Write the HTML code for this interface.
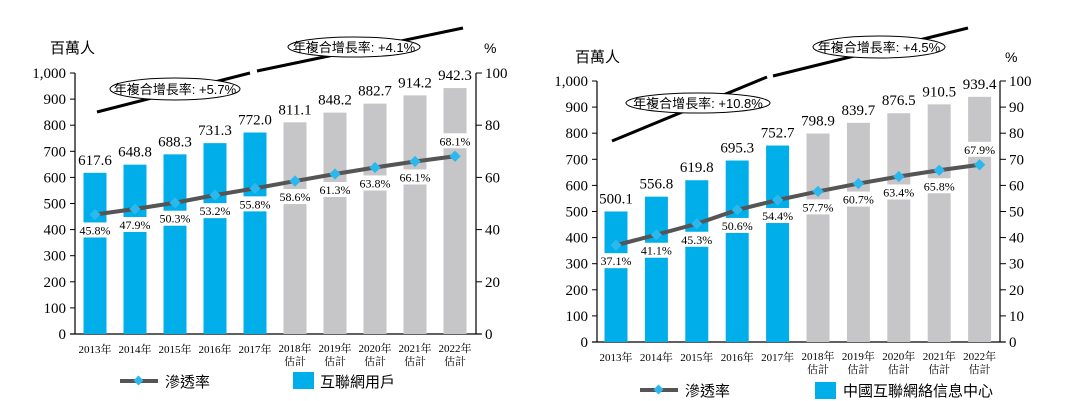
<!DOCTYPE html>
<html><head><meta charset="utf-8"><style>
html,body{margin:0;padding:0;background:#fff;}
svg{display:block;font-family:"Liberation Serif","Noto Serif CJK SC","Noto Sans CJK TC",serif;}
</style></head><body>
<svg id="s" width="1075" height="401" viewBox="0 0 1075 401" xmlns="http://www.w3.org/2000/svg"></svg>
<script>
const s=document.getElementById('s');let h='';
function chart(o){
 const {ax,rx,y0,sc,vals,pcts,rstep,x0,pitch}=o;
 // axes
 h+=`<line x1="${ax}" y1="${y0-1000*sc}" x2="${ax}" y2="${y0}" stroke="#000" stroke-width="1.2"/>`;
 h+=`<line x1="${rx}" y1="${y0-1000*sc}" x2="${rx}" y2="${y0}" stroke="#000" stroke-width="1.2"/>`;
 h+=`<line x1="${ax-5}" y1="${y0}" x2="${rx+5}" y2="${y0}" stroke="#000" stroke-width="1.2"/>`;
 for(let v=0;v<=1000;v+=100){const y=y0-v*sc;
  h+=`<line x1="${ax-5}" y1="${y}" x2="${ax}" y2="${y}" stroke="#000"/>`;
  h+=`<text x="${ax-9}" y="${y+5}" font-size="15" text-anchor="end">${v==1000?'1,000':v}</text>`;}
 for(let v=0;v<=100;v+=rstep){const y=y0-v*10*sc;
  h+=`<line x1="${rx}" y1="${y}" x2="${rx+6}" y2="${y}" stroke="#000"/>`;
  h+=`<text x="${rx+9}" y="${y+5}" font-size="15">${v}</text>`;}
 const pts=[];
 vals.forEach((v,i)=>{const cx=x0+i*pitch,c=i<5?'#00aeea':'#c6c6c8';
  h+=`<rect x="${cx-11.5}" y="${y0-v*sc}" width="23" height="${v*sc}" fill="${c}"/>`;
  h+=`<text x="${cx}" y="${y0-v*sc-8}" font-size="15" text-anchor="middle">${v.toFixed(1)}</text>`;
  const py=y0-pcts[i]*10*sc;pts.push([cx,py]);
  const last=i==9;const by=last?py-23:py+8;
  h+=`<rect x="${cx-14}" y="${by}" width="28" height="15" fill="#fff"/>`;
  h+=`<text x="${cx}" y="${by+12}" font-size="12" text-anchor="middle">${pcts[i].toFixed(1)}%</text>`;
  const yr=2013+i;
  if(i<5)h+=`<text x="${cx}" y="${y0+19}" font-size="11" text-anchor="middle">${yr}年</text>`;
  else h+=`<text x="${cx}" y="${y0+18}" font-size="11" text-anchor="middle">${yr}年</text><text x="${cx}" y="${y0+31}" font-size="11" text-anchor="middle">估計</text>`;
 });
 h+=`<polyline points="${pts.map(p=>p.join(',')).join(' ')}" fill="none" stroke="#555" stroke-width="4"/>`;
 pts.forEach(p=>h+=`<rect x="${p[0]-4}" y="${p[1]-4}" width="8" height="8" fill="#2ab8ee" transform="rotate(45 ${p[0]} ${p[1]})"/>`);
}
chart({ax:75,rx:476,y0:334,sc:0.261,x0:95,pitch:40,rstep:20,
 vals:[617.6,648.8,688.3,731.3,772.0,811.1,848.2,882.7,914.2,942.3],
 pcts:[45.8,47.9,50.3,53.2,55.8,58.6,61.3,63.8,66.1,68.1]});
chart({ax:597,rx:1000,y0:342,sc:0.261,x0:616,pitch:40.4,rstep:10,
 vals:[500.1,556.8,619.8,695.3,752.7,798.9,839.7,876.5,910.5,939.4],
 pcts:[37.1,41.1,45.3,50.6,54.4,57.7,60.7,63.4,65.8,67.9]});
// CAGR lines
const L=(a,b,c,d)=>h+=`<line x1="${a}" y1="${b}" x2="${c}" y2="${d}" stroke="#000" stroke-width="3"/>`;
L(97,112,250,73);L(257,71,463,28);
L(612,141,767,77);L(773,76,968,28);
const E=(cx,cy,rx,ry,t)=>{h+=`<ellipse cx="${cx}" cy="${cy}" rx="${rx}" ry="${ry}" fill="#fff" stroke="#000" stroke-width="1"/>`;
 h+=`<text x="${cx}" y="${cy+5}" font-size="13" text-anchor="middle" font-family="Liberation Sans,Noto Sans CJK TC,sans-serif">${t}</text>`;};
E(175,89,65,11,'年複合增長率: +5.7%');E(354,47,66,10,'年複合增長率: +4.1%');
E(698,103,72,10,'年複合增長率: +10.8%');E(879,47,66,11,'年複合增長率: +4.5%');
const T=(x,y,t,fs,a)=>h+=`<text x="${x}" y="${y}" font-size="${fs}" ${a||''} font-family="Liberation Sans,Noto Sans CJK TC,sans-serif">${t}</text>`;
T(50,53,'百萬人',15);T(484,53,'%',14);T(575,62,'百萬人',15);T(1005,62,'%',14);
// legends
h+=`<rect x="120" y="379" width="38" height="4" fill="#555"/><rect x="135" y="377" width="7" height="7" fill="#2ab8ee" transform="rotate(45 138.5 380.5)"/>`;
T(165,387,'滲透率',15);h+=`<rect x="293" y="372" width="21" height="17" fill="#00aeea"/>`;T(320,387,'互聯網用戶',15);
h+=`<rect x="640" y="388" width="38" height="4" fill="#555"/><rect x="655" y="386" width="7" height="7" fill="#2ab8ee" transform="rotate(45 658.5 389.5)"/>`;
T(685,396,'滲透率',15);h+=`<rect x="815" y="382" width="21" height="17" fill="#00aeea"/>`;T(843,396,'中國互聯網絡信息中心',15);
s.innerHTML=h;
</script>
</body></html>
